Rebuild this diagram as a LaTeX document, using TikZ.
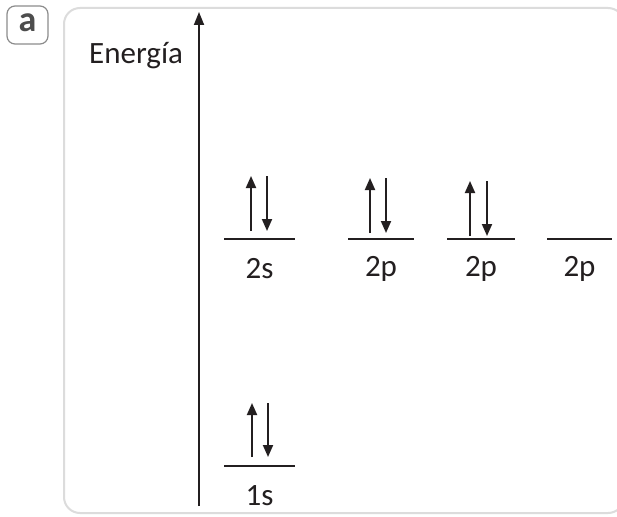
\documentclass[tikz,border=0pt]{standalone}
\usepackage{fontspec}
\setmainfont{Carlito}
\usetikzlibrary{arrows.meta}
\definecolor{boxgray}{HTML}{DCDCDC}
\definecolor{tagray}{HTML}{8C8C8C}
\definecolor{tagtext}{HTML}{4D4D4D}
\definecolor{ink}{HTML}{231F20}
\tikzset{
  level/.style={draw=ink, line width=1.8pt},
  electron/.style={draw=ink, line width=1.9pt, -{Triangle[length=12pt,width=10pt]}},
  lab/.style={text=ink, font=\fontsize{31}{34}\selectfont, inner sep=0pt},
}
\begin{document}
\begin{tikzpicture}[x=1pt,y=-1pt]
\useasboundingbox (0,0) rectangle (617,516);
\fill[white] (0,0) rectangle (617,516);
% tag
\draw[tagray, line width=1.2pt, rounded corners=8pt] (7,6) rectangle (48,44);
\node[lab, text=tagtext, font=\fontsize{36}{38}\selectfont\bfseries] (tag) at (27.5,23) {a};
% frame
\draw[boxgray, line width=2pt, rounded corners=16pt] (64,8) rectangle (624,513);
% axis
\coordinate (ax0) at (199,506);
\coordinate (ax1) at (199,12);
\draw[draw=ink, line width=1.8pt, -{Triangle[length=13pt,width=10pt]}] (ax0) -- (ax1);
\node[lab, anchor=west] (en) at (89,56) {Energía};
% levels
\foreach \n/\xa/\xb/\y/\t in {s2/224/295/239/2s, pa/348/414/239/2p, pb/447/515/239/2p, pc/547/612/239/2p, s1/224/295/466/1s}{
  \coordinate (\n L) at (\xa,\y);
  \coordinate (\n R) at (\xb,\y);
  \draw[level] (\n L) -- (\n R);
  \node[lab] (\n t) at ({(\xa+\xb)/2},{\y+30}) {\t};
}
% electrons
\foreach \n/\xu/\xd/\ya/\yb in {e1/251/267/231/176, e2/370/386/233/178, e3/470/487/236/181, e4/252/268/457/403}{
  \coordinate (\n ua) at (\xu,\ya);
  \coordinate (\n ub) at (\xu,\yb);
  \coordinate (\n da) at (\xd,\yb);
  \coordinate (\n db) at (\xd,\ya);
  \draw[electron] (\n ua) -- (\n ub);
  \draw[electron] (\n da) -- (\n db);
}
\end{tikzpicture}
\end{document}
